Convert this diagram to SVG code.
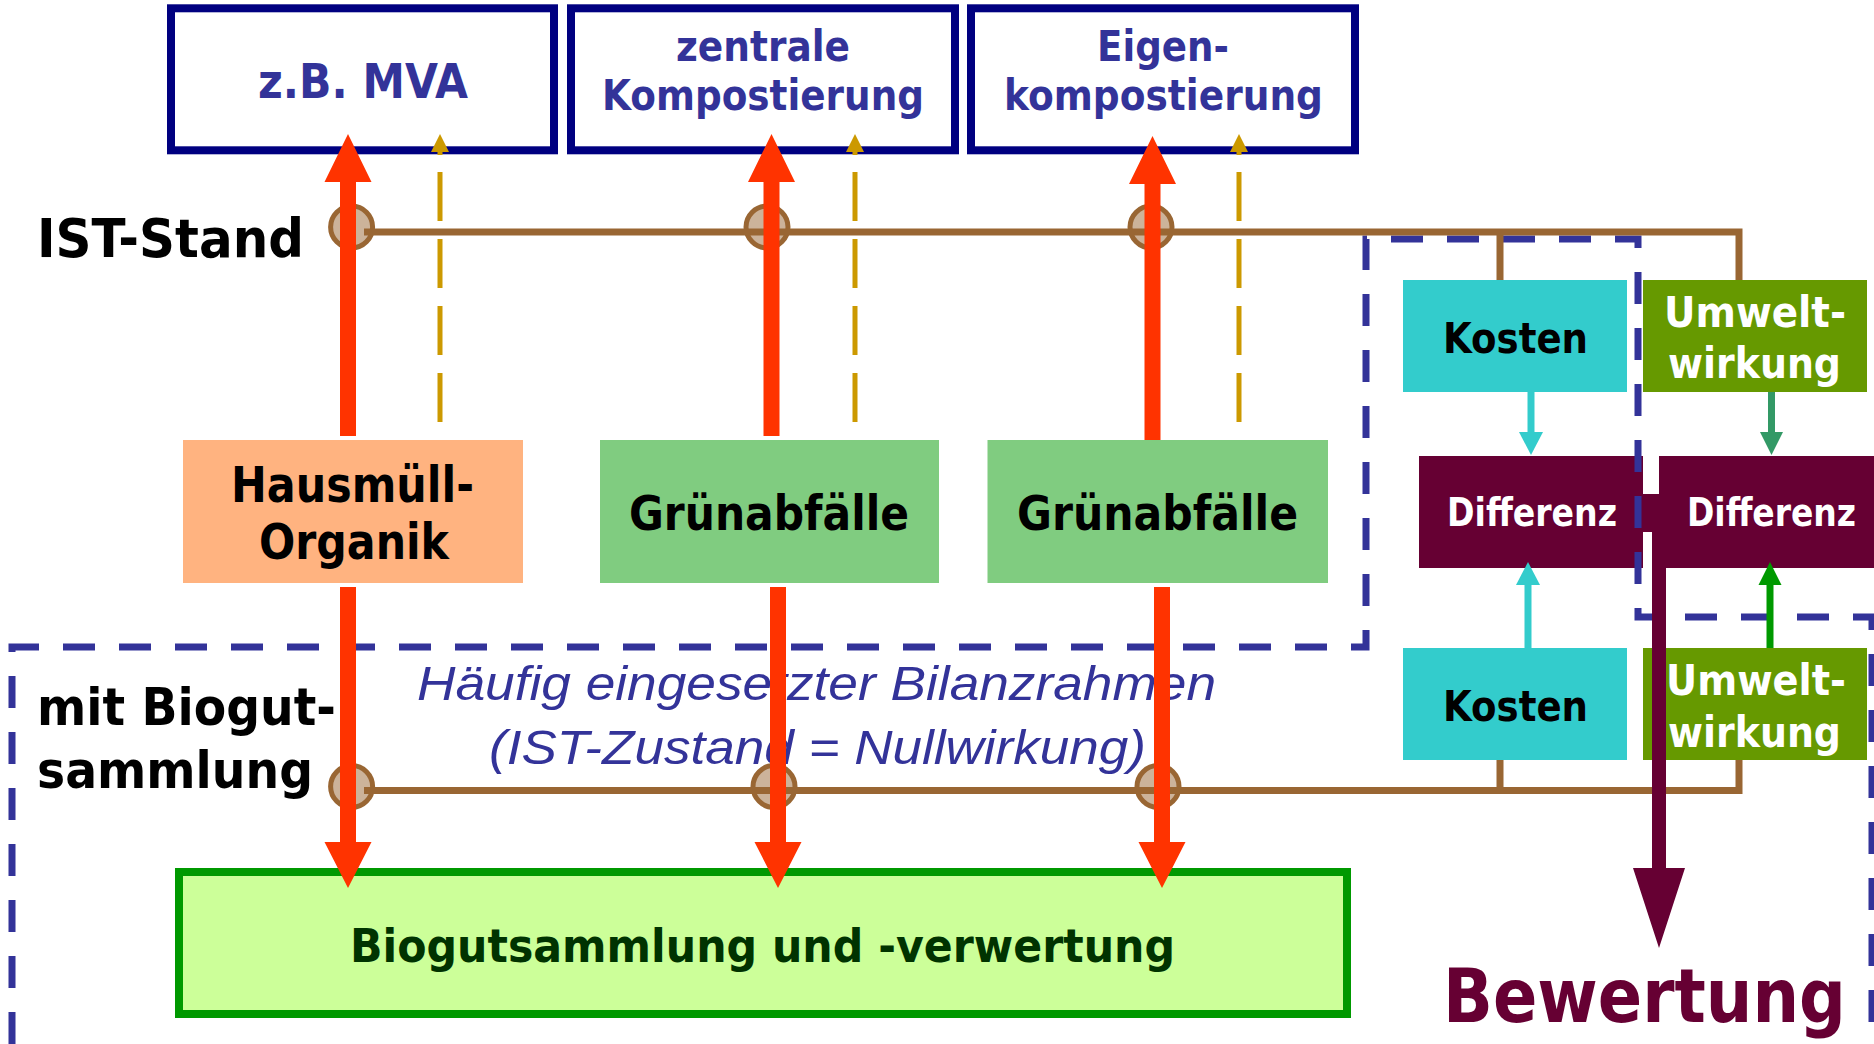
<svg xmlns="http://www.w3.org/2000/svg" width="1874" height="1044" viewBox="0 0 1874 1044">
<style>
.b{font-family:"DejaVu Sans",Verdana,"Liberation Sans",sans-serif;font-weight:bold}
.nv{fill:#333399}
.bk{fill:#000000}
.wh{fill:#ffffff}
.it{font-family:"Liberation Sans",Arial,sans-serif;font-style:italic;fill:#333399}
.topbox{fill:#ffffff;stroke:#000080;stroke-width:8}
.red{fill:#FF3300}
.gold{stroke:#CC9900;stroke-width:5;stroke-dasharray:49 18;fill:none}
.goldh{fill:#CC9900}
.brown{stroke:#996633;stroke-width:7;fill:none}
.knot{fill:#CCB39A;stroke:#996633;stroke-width:5}
.frame{stroke:#333399;stroke-width:7;fill:none;stroke-dasharray:32 24}
</style>
<rect width="1874" height="1044" fill="#ffffff"/>

<g id="node-mva"><rect class="topbox" x="171" y="8.3" width="383" height="142"/>
<text class="b nv" x="258" y="98" font-size="48" textLength="210" lengthAdjust="spacingAndGlyphs">z.B. MVA</text></g>
<g id="node-zentral"><rect class="topbox" x="571" y="8.3" width="384" height="142"/>
<text class="b nv" x="676" y="61" font-size="42" textLength="174" lengthAdjust="spacingAndGlyphs">zentrale</text>
<text class="b nv" x="602" y="110" font-size="42" textLength="322" lengthAdjust="spacingAndGlyphs">Kompostierung</text></g>
<g id="node-eigen"><rect class="topbox" x="971" y="8.3" width="384" height="142"/>
<text class="b nv" x="1097" y="61" font-size="42" textLength="132" lengthAdjust="spacingAndGlyphs">Eigen-</text>
<text class="b nv" x="1004" y="110" font-size="42" textLength="319" lengthAdjust="spacingAndGlyphs">kompostierung</text></g>

<g id="label-ist"><text class="b bk" x="37" y="257" font-size="53" textLength="267" lengthAdjust="spacingAndGlyphs">IST-Stand</text></g>
<g id="label-mit"><text class="b bk" x="37" y="725" font-size="52" textLength="299" lengthAdjust="spacingAndGlyphs">mit Biogut-</text>
<text class="b bk" x="37" y="788" font-size="52" textLength="276" lengthAdjust="spacingAndGlyphs">sammlung</text></g>

<g id="node-hausmuell"><rect x="183" y="440" width="340" height="143" fill="#FFB380"/>
<text class="b bk" x="231" y="502" font-size="50" textLength="243" lengthAdjust="spacingAndGlyphs">Hausmüll-</text>
<text class="b bk" x="259" y="559" font-size="50" textLength="190" lengthAdjust="spacingAndGlyphs">Organik</text></g>
<g id="node-gruen1"><rect x="600" y="440" width="339" height="143" fill="#80CC80"/>
<text class="b bk" x="629" y="530" font-size="48" textLength="280" lengthAdjust="spacingAndGlyphs">Grünabfälle</text></g>
<g id="node-gruen2"><rect x="987.5" y="440" width="340.5" height="143" fill="#80CC80"/>
<text class="b bk" x="1017" y="530" font-size="48" textLength="281" lengthAdjust="spacingAndGlyphs">Grünabfälle</text></g>

<g id="node-kosten1"><rect x="1403" y="280" width="224" height="112" fill="#33CCCC"/>
<text class="b bk" x="1443" y="353" font-size="43" textLength="145" lengthAdjust="spacingAndGlyphs">Kosten</text></g>
<g id="node-umwelt1"><rect x="1643" y="280" width="224" height="112" fill="#669900"/>
<text class="b wh" x="1664" y="327" font-size="42" textLength="182" lengthAdjust="spacingAndGlyphs">Umwelt-</text>
<text class="b wh" x="1668" y="378" font-size="42" textLength="173" lengthAdjust="spacingAndGlyphs">wirkung</text></g>
<g id="node-diff1"><rect x="1419" y="456" width="224" height="112" fill="#660033"/>
<text class="b wh" x="1447" y="526" font-size="39" textLength="170" lengthAdjust="spacingAndGlyphs">Differenz</text></g>
<g id="node-diff2"><rect x="1659" y="456" width="215" height="112" fill="#660033"/>
<text class="b wh" x="1687" y="526" font-size="39" textLength="169" lengthAdjust="spacingAndGlyphs">Differenz</text></g>
<g id="node-kosten2"><rect x="1403" y="648" width="224" height="112" fill="#33CCCC"/>
<text class="b bk" x="1443" y="721" font-size="43" textLength="145" lengthAdjust="spacingAndGlyphs">Kosten</text></g>
<g id="node-umwelt2"><rect x="1643" y="648" width="224" height="112" fill="#669900"/>
<text class="b wh" x="1666" y="695" font-size="42" textLength="180" lengthAdjust="spacingAndGlyphs">Umwelt-</text>
<text class="b wh" x="1668" y="747" font-size="42" textLength="173" lengthAdjust="spacingAndGlyphs">wirkung</text></g>

<g id="node-biogut"><rect x="179" y="872" width="1168" height="142" fill="#CCFF99" stroke="#009900" stroke-width="8"/>
<text class="b" fill="#003300" x="350" y="962" font-size="47" textLength="825" lengthAdjust="spacingAndGlyphs">Biogutsammlung und -verwertung</text></g>

<g id="label-bewertung"><text class="b" fill="#660033" x="1443" y="1022" font-size="74" textLength="403" lengthAdjust="spacingAndGlyphs">Bewertung</text></g>

<g id="frame"><path class="frame" d="M12,1044 V647 H1366 V239 H1638 V617 H1872 V1044"/>
<text class="it" x="417" y="700" font-size="49" textLength="799" lengthAdjust="spacingAndGlyphs">Häufig eingesetzter Bilanzrahmen</text>
<text class="it" x="489" y="764" font-size="49" textLength="657" lengthAdjust="spacingAndGlyphs">(IST-Zustand = Nullwirkung)</text></g>

<g id="connectors">
<circle class="knot" cx="351.6" cy="227" r="21"/>
<circle class="knot" cx="767" cy="227" r="21"/>
<circle class="knot" cx="1151" cy="227" r="21"/>
<circle class="knot" cx="351.6" cy="786.5" r="21"/>
<circle class="knot" cx="774" cy="786.5" r="21"/>
<circle class="knot" cx="1158" cy="786.5" r="21"/>
<path class="brown" d="M364,232 H1739 V280 M1500,232 V280"/>
<path class="brown" d="M364,790.5 H1739 V760 M1500,790.5 V760"/>

<line class="gold" x1="440" y1="172" x2="440" y2="422"/>
<line class="gold" x1="855" y1="172" x2="855" y2="422"/>
<line class="gold" x1="1239" y1="172" x2="1239" y2="422"/>
<path class="goldh" d="M440,134 L449,152 L442.5,152 L442.5,155 L437.5,155 L437.5,152 L431,152 Z"/>
<path class="goldh" d="M855,134 L864,152 L857.5,152 L857.5,155 L852.5,155 L852.5,152 L846,152 Z"/>
<path class="goldh" d="M1239,134 L1248,152 L1241.5,152 L1241.5,155 L1236.5,155 L1236.5,152 L1230,152 Z"/>

<path class="red" d="M340,436 V182 H324.5 L348,134 L371.5,182 H356 V436 Z"/>
<path class="red" d="M763.5,436 V182 H748 L771.5,134 L795,182 H779.5 V436 Z"/>
<path class="red" d="M1144.5,440 V184 H1129 L1152.5,136 L1176,184 H1160.5 V440 Z"/>
<path class="red" d="M340,587 V842 H324.5 L348,888 L371.5,842 H356 V587 Z"/>
<path class="red" d="M770,587 V842 H754.5 L778,888 L801.5,842 H786 V587 Z"/>
<path class="red" d="M1154,587 V842 H1138.5 L1162,888 L1185.5,842 H1170 V587 Z"/>

<line x1="1531" y1="392" x2="1531" y2="433" stroke="#33CCCC" stroke-width="7"/>
<polygon points="1519,432 1543,432 1531,455" fill="#33CCCC"/>
<line x1="1771.5" y1="392" x2="1771.5" y2="433" stroke="#339966" stroke-width="7"/>
<polygon points="1760,432 1783,432 1771.5,455" fill="#339966"/>
<line x1="1528" y1="648" x2="1528" y2="584" stroke="#33CCCC" stroke-width="7"/>
<polygon points="1516,585 1540,585 1528,562" fill="#33CCCC"/>
<line x1="1770" y1="648" x2="1770" y2="584" stroke="#009900" stroke-width="7"/>
<polygon points="1758.5,585 1781.5,585 1770,562" fill="#009900"/>

<rect x="1643" y="494" width="17" height="38" fill="#660033"/>
<path d="M1652,494 H1666 V868 H1685 L1659,948 L1633,868 H1652 Z" fill="#660033"/>
</g>
</svg>
